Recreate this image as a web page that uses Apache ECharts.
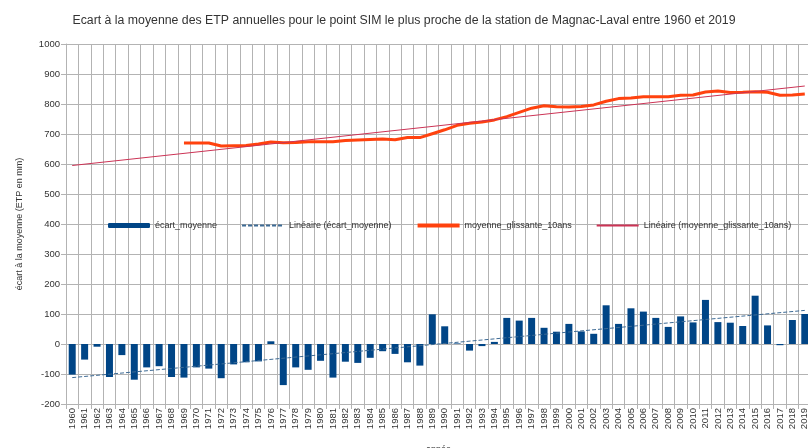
<html>
<head>
    <meta charset="utf-8"/>
    <title>Ecart ETP Magnac-Laval</title>
    <script src="https://cdn.jsdelivr.net/npm/echarts@6/dist/echarts.min.js"></script>
    <style>
        body { margin: 0; background: #fff; }
        #main { width: 808px; height: 448px; }
    </style>
</head>
<body>
<div id="main"></div>
<script type="text/javascript">
    var annees = [];
    for (var a = 1960; a <= 2019; a++) annees.push(String(a));

    // écart à la moyenne, 1960 -> 2019
    var ecart = [-102, -52, -9, -110, -37, -119, -78, -74, -110, -112,
                 -78, -82, -114, -68, -61, -58, 9, -137, -78, -86,
                 -56, -112, -59, -63, -46, -24, -33, -61, -72, 99,
                 59, 2, -22, -7, 7, 87, 78, 87, 54, 41,
                 67, 42, 34, 129, 67, 119, 108, 87, 57, 92,
                 72, 147, 73, 71, 60, 161, 62, -4, 80, 100];

    // moyenne glissante sur 10 ans (à partir de 1969)
    var moyenne = ['-', '-', '-', '-', '-', '-', '-', '-', '-', 670,
                   670, 670, 660, 661, 662, 667, 673, 671, 672, 674,
                   674, 674, 678, 680, 682, 683, 681, 688, 688, 701,
                   714, 729, 736, 740, 747, 758, 772, 786, 794, 791,
                   790, 792, 797, 809, 818, 820, 824, 824, 824, 829,
                   830, 840, 843, 838, 839, 841, 839, 829, 830, 833];

    // tendances linéaires (extrémités)
    var tendanceEcart = [['1960', -112], ['2019', 112]];
    var tendanceMoyenne = [['1960', 595], ['2019', 860]];

    var myChart = echarts.init(document.getElementById('main'));
    var gris = '#b3b3b3';
    var sansSymbole = { opacity: 0 };
    var option = {
        animation: false,
        textStyle: { fontFamily: 'Liberation Sans' },
        title: {
            text: 'Ecart à la moyenne des ETP annuelles pour le point SIM le plus proche de la station de Magnac-Laval entre 1960 et 2019',
            left: 'center',
            top: 10,
            textStyle: { fontSize: 12.3, fontWeight: 'normal', color: '#333' }
        },
        legend: {
            left: 103,
            top: 216,
            width: 700,
            itemGap: 24,
            itemWidth: 42,
            itemHeight: 5,
            textStyle: { fontSize: 9, color: '#333' },
            data: [
                { name: 'écart_moyenne' },
                { name: 'Linéaire (écart_moyenne)', itemStyle: sansSymbole },
                { name: 'moyenne_glissante_10ans', itemStyle: sansSymbole, lineStyle: { width: 4 } },
                { name: 'Linéaire (moyenne_glissante_10ans)', itemStyle: sansSymbole }
            ]
        },
        grid: { left: 66, right: -3, top: 44, bottom: 44, outerBoundsMode: 'none' },
        xAxis: {
            type: 'category',
            data: annees,
            name: 'année',
            nameLocation: 'middle',
            nameGap: 41,
            nameTextStyle: { fontSize: 9, color: '#333' },
            axisLine: { onZero: false, lineStyle: { color: gris } },
            axisTick: { show: true, interval: 0, lineStyle: { color: gris } },
            axisLabel: { interval: 0, rotate: 90, fontSize: 9.5, color: '#333', margin: 4 },
            splitLine: { show: true, interval: 0, lineStyle: { color: gris } }
        },
        yAxis: {
            type: 'value',
            min: -200,
            max: 1000,
            interval: 100,
            name: 'écart à la moyenne (ETP en mm)',
            nameLocation: 'middle',
            nameGap: 42,
            nameTextStyle: { fontSize: 9, color: '#333' },
            axisLine: { show: true, lineStyle: { color: gris } },
            axisTick: { show: true, lineStyle: { color: gris } },
            axisLabel: { fontSize: 9.5, color: '#333', margin: 6, formatter: function (v) { return String(v); } },
            splitLine: { lineStyle: { color: gris } }
        },
        series: [{
            name: 'écart_moyenne',
            type: 'bar',
            data: ecart,
            barWidth: 7,
            itemStyle: { color: '#004586' }
        }, {
            name: 'Linéaire (écart_moyenne)',
            type: 'line',
            data: tendanceEcart,
            symbol: 'none',
            lineStyle: { color: '#3d6a94', width: 1, type: [4, 2] },
            itemStyle: { color: '#3d6a94' }
        }, {
            name: 'moyenne_glissante_10ans',
            type: 'line',
            data: moyenne,
            symbol: 'none',
            lineStyle: { color: '#ff420e', width: 3 },
            itemStyle: { color: '#ff420e' }
        }, {
            name: 'Linéaire (moyenne_glissante_10ans)',
            type: 'line',
            data: tendanceMoyenne,
            symbol: 'none',
            lineStyle: { color: '#cc3355', width: 1 },
            itemStyle: { color: '#cc3355' }
        }]
    };
    myChart.setOption(option);
</script>
</body>
</html>
